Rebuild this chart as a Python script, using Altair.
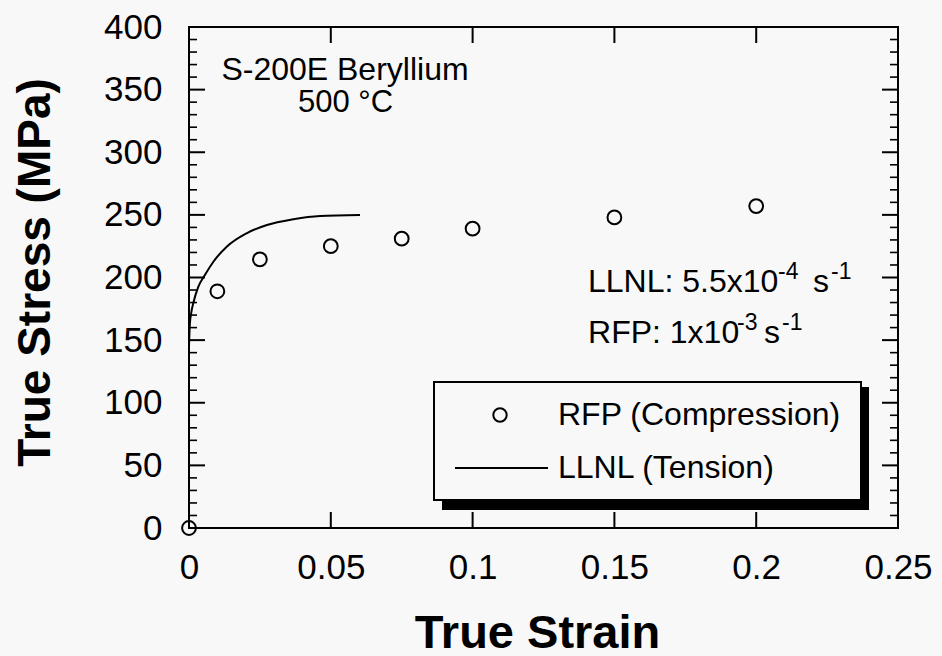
import altair as alt
import pandas as pd

# ---- data ----
rfp_strain = [0.0, 0.01, 0.025, 0.05, 0.075, 0.1, 0.15, 0.2]
rfp_stress = [0, 189, 214.5, 225, 231, 239, 248, 257]

llnl_strain = [0.0, 0.0003, 0.0008, 0.0015, 0.0033, 0.0056, 0.0086, 0.0133,
               0.0203, 0.0275, 0.0368, 0.0462, 0.0603]
llnl_stress = [145, 163, 172, 179.4, 192.7, 202, 212.6, 224.6,
               235.3, 241.9, 246.5, 249.1, 249.9]

x_ticks = [0, 0.05, 0.1, 0.15, 0.2, 0.25]
y_major = [0, 50, 100, 150, 200, 250, 300, 350, 400]
y_minor = [v for v in range(0, 401, 10) if v % 50 != 0]

# ---- layout / style ----
W, H = 709, 501
FONT = "Liberation Sans"
BG = "#f8f8f8"
XMAX, YMAX = 0.25, 400.0

xs = alt.Scale(domain=[0, XMAX], nice=False, zero=False)
ys = alt.Scale(domain=[0, YMAX], nice=False, zero=False)

xaxis = alt.Axis(
    title="True Strain", values=x_ticks, format="~g", grid=False, domain=False,
    ticks=False, labelFont=FONT, labelFontSize=35, labelColor="black",
    labelPadding=22, labelFlush=False, labelOverlap=False,
    titleFont=FONT, titleFontSize=47, titleFontWeight="bold", titleColor="black",
    titleX=348, titleY=119, titleBaseline="alphabetic", titleAlign="center",
)
yaxis = alt.Axis(
    title="True Stress (MPa)", values=y_major, format="d", grid=False, domain=False,
    ticks=False, labelFont=FONT, labelFontSize=35, labelColor="black",
    labelPadding=27, labelOverlap=False,
    titleFont=FONT, titleFontSize=46, titleFontWeight="bold", titleColor="black",
    titleX=-140, titleY=245, titleBaseline="alphabetic", titleAlign="center",
    titleAngle=270,
)


def X(f):
    return alt.X(f, type="quantitative", scale=xs, axis=xaxis)


def Y(f):
    return alt.Y(f, type="quantitative", scale=ys, axis=yaxis)


def XD(v):
    return alt.XDatum(v, type="quantitative", scale=xs, axis=xaxis)


def YD(v):
    return alt.YDatum(v, type="quantitative", scale=ys, axis=yaxis)


one = pd.DataFrame({"k": [0]})
df_rfp = pd.DataFrame({"strain": rfp_strain, "stress": rfp_stress})
df_llnl = pd.DataFrame({"strain": llnl_strain, "stress": llnl_stress})

layers = []


# frame ticks (inward on all four sides), placed with the same linear mapping as the scales
def px(v):
    return v / XMAX * W


def py(v):
    return H - v / YMAX * H


def hseg(x1, x2, y, width):
    return (alt.Chart(one).mark_rule(color="black", strokeWidth=width)
            .encode(x=alt.value(x1), x2=alt.value(x2), y=alt.value(y)))


def vseg(x, y1, y2, width):
    return (alt.Chart(one).mark_rule(color="black", strokeWidth=width)
            .encode(x=alt.value(x), y=alt.value(y1), y2=alt.value(y2)))


for v in y_major:
    layers.append(hseg(0, 16, py(v), 2))
    layers.append(hseg(W, W - 16, py(v), 2))
for v in y_minor:
    layers.append(hseg(0, 8, py(v), 1.6))
    layers.append(hseg(W, W - 8, py(v), 1.6))
for v in x_ticks:
    layers.append(vseg(px(v), H, H - 16, 2))
    layers.append(vseg(px(v), 0, 16, 2))

# data
layers.append(alt.Chart(df_llnl).mark_line(color="black", strokeWidth=2, interpolate="monotone")
              .encode(x=X("strain"), y=Y("stress")))
layers.append(alt.Chart(df_rfp).mark_point(shape="circle", filled=False, color="black",
                                           size=190, strokeWidth=2, opacity=1)
              .encode(x=X("strain"), y=Y("stress")))


def txt(s, x, y, size=32, align="left", dx=0, dy=0):
    return (alt.Chart(one)
            .mark_text(text=s, font=FONT, fontSize=size, align=align,
                       baseline="alphabetic", dx=dx, dy=dy, color="black")
            .encode(x=XD(x), y=YD(y)))


# annotations
layers.append(txt("S-200E Beryllium", 0.055, 357.7, align="center"))
layers.append(txt("500 °C", 0.0552, 332.1, size=31, align="center"))

layers.append(txt("LLNL: 5.5x10", 0.1407, 188.4))
layers.append(txt("-4", 0.1407, 188.4, size=23, dx=190, dy=-13))
layers.append(txt("s", 0.1407, 188.4, dx=225))
layers.append(txt("-1", 0.1407, 188.4, size=23, dx=243, dy=-13))

layers.append(txt("RFP: 1x10", 0.1407, 148))
layers.append(txt("-3", 0.1407, 148, size=23, dx=149, dy=-13))
layers.append(txt("s", 0.1407, 148, dx=176))
layers.append(txt("-1", 0.1407, 148, size=23, dx=194, dy=-13))

# legend box with drop shadow
layers.append(alt.Chart(one).mark_rect(color="black")
              .encode(x=alt.value(253), x2=alt.value(680), y=alt.value(360), y2=alt.value(483)))
layers.append(alt.Chart(one).mark_rect(fill=BG, stroke="black", strokeWidth=2)
              .encode(x=alt.value(245), x2=alt.value(672), y=alt.value(355), y2=alt.value(473)))
layers.append(alt.Chart(one).mark_point(shape="circle", filled=False, color="black",
                                        size=180, strokeWidth=2, opacity=1)
              .encode(x=alt.value(311), y=alt.value(388)))
layers.append(alt.Chart(one).mark_rule(color="black", strokeWidth=2)
              .encode(x=alt.value(266), x2=alt.value(359), y=alt.value(441)))
layers.append(alt.Chart(one).mark_text(text="RFP (Compression)", font=FONT, fontSize=32,
                                       align="left", baseline="middle", color="black")
              .encode(x=alt.value(369), y=alt.value(388)))
layers.append(alt.Chart(one).mark_text(text="LLNL (Tension)", font=FONT, fontSize=32,
                                       align="left", baseline="middle", color="black")
              .encode(x=alt.value(369), y=alt.value(441)))

chart = (alt.layer(*layers)
         .properties(width=W, height=H, autosize="none",
                     padding={"left": 189, "top": 27, "right": 44, "bottom": 128},
                     background=BG)
         .configure_view(stroke="black", strokeWidth=2))

chart.save("out.html", embed_options={"renderer": "svg", "actions": False})
